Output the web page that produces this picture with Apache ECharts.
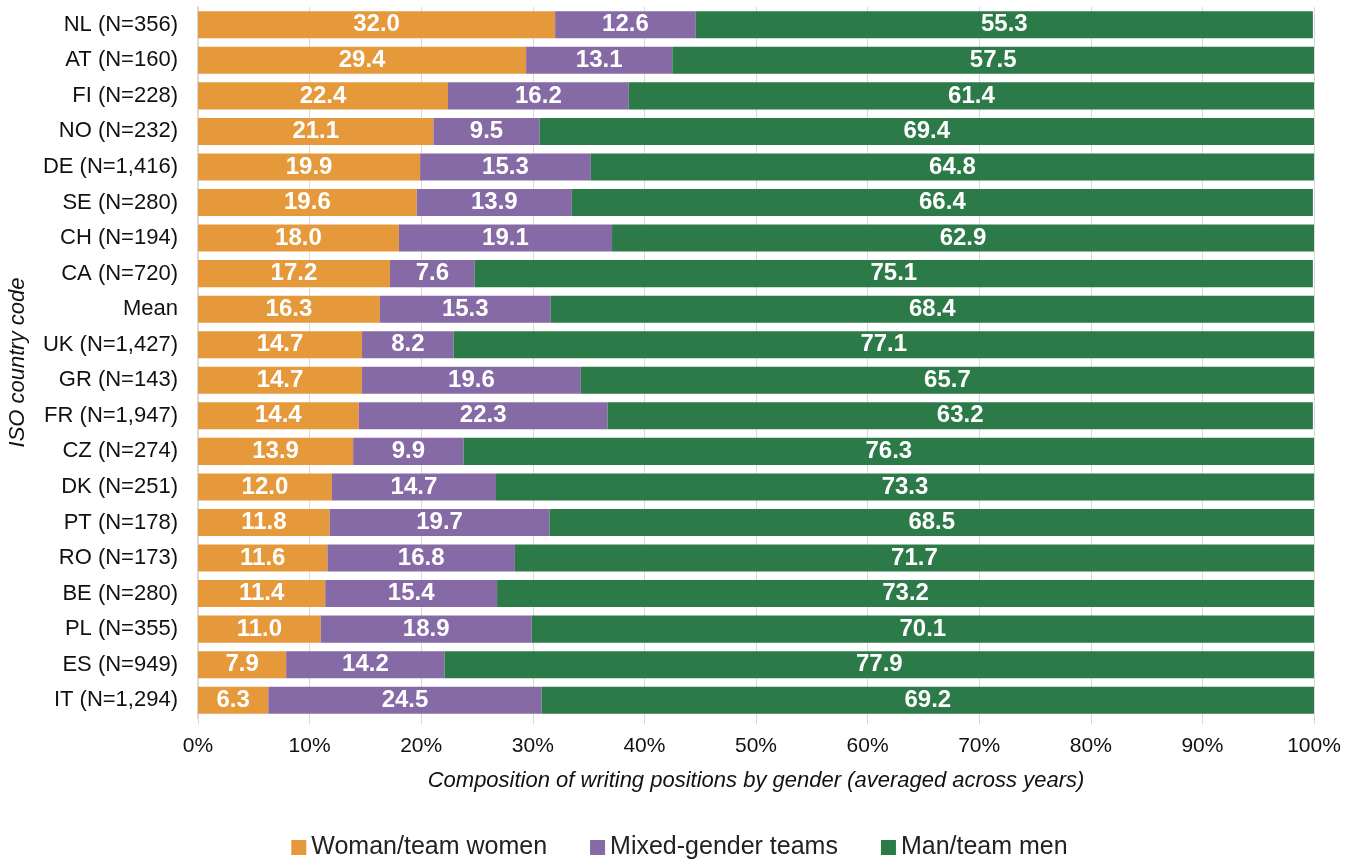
<!DOCTYPE html>
<html>
<head>
<meta charset="utf-8">
<script src="https://cdn.jsdelivr.net/npm/echarts@6/dist/echarts.min.js"></script>
<style>
  html, body { margin: 0; padding: 0; background: #fff; }
  #chart { width: 1359px; height: 863px; }
</style>
</head>
<body>
<div id="chart"></div>
<script>
// categories, top to bottom
var countries = [
  "NL (N=356)", "AT (N=160)", "FI (N=228)", "NO (N=232)", "DE (N=1,416)",
  "SE (N=280)", "CH (N=194)", "CA (N=720)", "Mean", "UK (N=1,427)",
  "GR (N=143)", "FR (N=1,947)", "CZ (N=274)", "DK (N=251)", "PT (N=178)",
  "RO (N=173)", "BE (N=280)", "PL (N=355)", "ES (N=949)", "IT (N=1,294)"
];
var women = [32.0, 29.4, 22.4, 21.1, 19.9, 19.6, 18.0, 17.2, 16.3, 14.7,
             14.7, 14.4, 13.9, 12.0, 11.8, 11.6, 11.4, 11.0, 7.9, 6.3];
var mixed = [12.6, 13.1, 16.2, 9.5, 15.3, 13.9, 19.1, 7.6, 15.3, 8.2,
             19.6, 22.3, 9.9, 14.7, 19.7, 16.8, 15.4, 18.9, 14.2, 24.5];
var men = [55.3, 57.5, 61.4, 69.4, 64.8, 66.4, 62.9, 75.1, 68.4, 77.1,
           65.7, 63.2, 76.3, 73.3, 68.5, 71.7, 73.2, 70.1, 77.9, 69.2];
var seriesNames = ["Woman/team women", "Mixed-gender teams", "Man/team men"];

var colors = ["#E5993A", "#866AA6", "#2B7A48"];
var font = "Arial, 'Liberation Sans', sans-serif";

var myChart = echarts.init(document.getElementById("chart"));

function makeSeries(name, data, color) {
  return {
    name: name,
    type: "bar",
    stack: "total",
    barCategoryGap: "24%",
    itemStyle: { color: color },
    label: {
      show: true,
      position: "inside",
      color: "#fff",
      fontWeight: "bold",
      fontSize: 24,
      fontFamily: font,
      formatter: function (p) { return p.value.toFixed(1); }
    },
    data: data
  };
}

myChart.setOption({
  animation: false,
  color: colors,
  grid: { left: 198, right: 45, top: 7, bottom: 145, containLabel: false, outerBoundsMode: "none" },
  legend: {
    bottom: 3,
    left: "center",
    padding: [0, 5],
    itemWidth: 15,
    itemHeight: 15,
    itemGap: 43,
    icon: "rect",
    textStyle: { fontSize: 25, color: "#222", fontFamily: font },
    data: seriesNames
  },
  xAxis: {
    type: "value",
    min: 0,
    max: 100,
    interval: 10,
    name: "Composition of writing positions by gender (averaged across years)",
    nameLocation: "middle",
    nameGap: 52,
    nameTextStyle: { fontSize: 22, fontStyle: "italic", color: "#111", fontFamily: font },
    axisLabel: {
      formatter: "{value}%",
      fontSize: 21,
      color: "#111",
      margin: 18,
      fontFamily: font
    },
    axisLine: { show: false },
    axisTick: { show: true, length: 6, lineStyle: { color: "#d9d9d9" } },
    splitLine: { show: true, lineStyle: { color: "#d9d9d9", width: 1 } }
  },
  yAxis: {
    type: "category",
    inverse: true,
    data: countries,
    name: "ISO country code",
    nameLocation: "middle",
    nameGap: 169,
    nameRotate: 90,
    nameTextStyle: { fontSize: 22, fontStyle: "italic", color: "#111", fontFamily: font },
    axisLabel: { fontSize: 22, color: "#111", margin: 20, fontFamily: font },
    axisLine: { show: true, lineStyle: { color: "#d9d9d9", width: 2 } },
    axisTick: { show: false }
  },
  series: [
    makeSeries(seriesNames[0], women, colors[0]),
    makeSeries(seriesNames[1], mixed, colors[1]),
    makeSeries(seriesNames[2], men, colors[2])
  ]
});
</script>
</body>
</html>
